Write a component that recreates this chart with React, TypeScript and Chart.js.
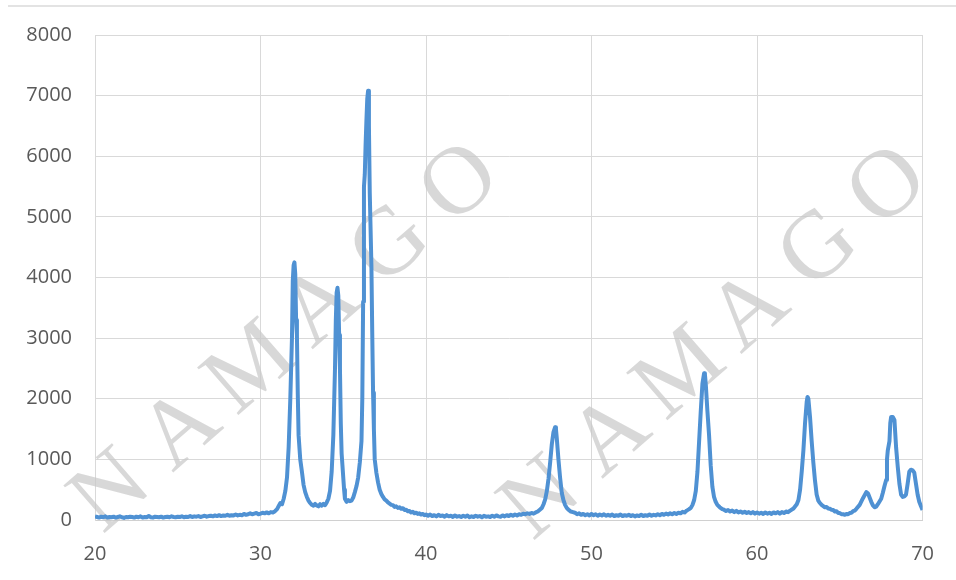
import React, { useEffect, useRef } from "react";
import { Chart, registerables } from "chart.js";

Chart.register(...registerables);

// 2θ (degrees), line by line parallel to `intensity`
const twoTheta: number[] = [
  20.0, 20.125, 20.25, 20.375, 20.5, 20.625, 20.75, 20.875,
  21.0, 21.125, 21.25, 21.375, 21.5, 21.625, 21.75, 21.875,
  22.0, 22.125, 22.25, 22.375, 22.5, 22.625, 22.75, 22.875,
  23.0, 23.125, 23.25, 23.375, 23.5, 23.625, 23.75, 23.875,
  24.0, 24.125, 24.25, 24.375, 24.5, 24.625, 24.75, 24.875,
  25.0, 25.125, 25.25, 25.375, 25.5, 25.625, 25.75, 25.875,
  26.0, 26.125, 26.25, 26.375, 26.5, 26.625, 26.75, 26.875,
  27.0, 27.125, 27.25, 27.375, 27.5, 27.625, 27.75, 27.875,
  28.0, 28.125, 28.25, 28.375, 28.5, 28.625, 28.75, 28.875,
  29.0, 29.125, 29.25, 29.375, 29.5, 29.625, 29.75, 29.875,
  30.0, 30.125, 30.25, 30.375, 30.5, 30.625, 30.75, 30.875,
  31.0,
  31.1, 31.2, 31.3, 31.4, 31.5, 31.6, 31.7, 31.8, 31.9, 31.95, 32.0, 32.05, 32.1, 32.15, 32.2, 32.25, 32.3, 32.4, 32.5, 32.6, 32.7, 32.8, 32.9, 33.0,
  33.1, 33.2, 33.3, 33.4, 33.5, 33.6, 33.7, 33.8, 33.9, 34.0, 34.1, 34.2,
  34.3, 34.4, 34.5, 34.55, 34.6, 34.65, 34.7, 34.75, 34.8, 34.85, 34.9, 34.95, 35.0, 35.05, 35.1,
  35.2, 35.3, 35.4, 35.5, 35.6, 35.7, 35.8, 35.9, 36.0, 36.1, 36.15, 36.2, 36.25,
  36.3, 36.35, 36.4, 36.45, 36.5, 36.55, 36.6, 36.65, 36.7, 36.75, 36.8, 36.85, 36.9,
  37.0, 37.1, 37.2, 37.3, 37.4, 37.5, 37.6, 37.7, 37.8, 37.9,
  38.0, 38.1, 38.2, 38.3, 38.4, 38.5, 38.6, 38.7, 38.8, 38.9, 39.0, 39.1, 39.2, 39.3, 39.4, 39.5, 39.6, 39.7, 39.8, 39.9, 40.0,
  40.125, 40.25, 40.375, 40.5, 40.625, 40.75, 40.875,
  41.0, 41.125, 41.25, 41.375, 41.5, 41.625, 41.75, 41.875,
  42.0, 42.125, 42.25, 42.375, 42.5, 42.625, 42.75, 42.875,
  43.0, 43.125, 43.25, 43.375, 43.5, 43.625, 43.75, 43.875,
  44.0, 44.125, 44.25, 44.375, 44.5, 44.625, 44.75, 44.875,
  45.0, 45.125, 45.25, 45.375, 45.5, 45.625, 45.75, 45.875,
  46.0, 46.125, 46.25, 46.375, 46.5, 46.625, 46.75, 46.875,
  47.0, 47.1, 47.2, 47.3, 47.4, 47.5, 47.6, 47.7, 47.8, 47.85, 47.9, 48.0, 48.1, 48.2, 48.3, 48.4, 48.5, 48.6, 48.75, 48.875,
  49.0, 49.125, 49.25, 49.375, 49.5, 49.625, 49.75, 49.875,
  50.0, 50.125, 50.25, 50.375, 50.5, 50.625, 50.75, 50.875,
  51.0, 51.125, 51.25, 51.375, 51.5, 51.625, 51.75, 51.875,
  52.0, 52.125, 52.25, 52.375, 52.5, 52.625, 52.75, 52.875,
  53.0, 53.125, 53.25, 53.375, 53.5, 53.625, 53.75, 53.875,
  54.0, 54.125, 54.25, 54.375, 54.5, 54.625, 54.75, 54.875,
  55.0, 55.125, 55.25, 55.375, 55.5, 55.625, 55.75, 55.875,
  56.0, 56.1, 56.2, 56.3, 56.4, 56.5, 56.6, 56.7, 56.8, 56.85, 56.9, 57.0, 57.1, 57.2, 57.3, 57.4, 57.5, 57.6, 57.75, 57.9,
  58.0, 58.125, 58.25, 58.375, 58.5, 58.625, 58.75, 58.875,
  59.0, 59.125, 59.25, 59.375, 59.5, 59.625, 59.75, 59.875,
  60.0, 60.125, 60.25, 60.375, 60.5, 60.625, 60.75, 60.875,
  61.0, 61.125, 61.25, 61.375, 61.5, 61.625, 61.75, 61.875,
  62.0, 62.2, 62.4, 62.5, 62.6, 62.7, 62.8, 62.9, 63.0, 63.05, 63.1, 63.2, 63.3, 63.4, 63.5, 63.6, 63.7, 63.8, 63.9,
  64.0, 64.1, 64.2, 64.3, 64.4, 64.5, 64.6, 64.7, 64.8, 64.9, 65.0, 65.1, 65.2, 65.3, 65.4, 65.5, 65.6, 65.7, 65.8, 65.9,
  66.0, 66.2, 66.4, 66.6, 66.7, 66.8, 66.9, 67.0, 67.1, 67.2, 67.3, 67.5, 67.6, 67.7, 67.8,
  67.85, 67.9, 68.0, 68.05, 68.1, 68.2, 68.3, 68.4, 68.5, 68.6, 68.7, 68.8, 68.9, 69.0,
  69.1, 69.2, 69.3, 69.4, 69.5, 69.6, 69.7, 69.8, 69.9, 70.0,
];

// intensity (counts)
const intensity: number[] = [
  60, 50, 40, 55, 45, 60, 40, 50,
  45, 55, 40, 50, 60, 45, 35, 50,
  45, 55, 50, 40, 55, 45, 60, 40,
  50, 45, 65, 45, 40, 55, 50, 45,
  55, 40, 50, 55, 45, 60, 50, 45,
  55, 50, 60, 45, 55, 50, 65, 50,
  60, 55, 65, 50, 60, 70, 55, 65,
  70, 60, 75, 65, 80, 65, 75, 70,
  85, 70, 80, 75, 90, 75, 85, 80,
  100, 85, 95, 110, 95, 105, 115, 95,
  105, 120, 110, 125, 110, 130, 125, 145,
  180,
  230, 280, 260, 350, 480, 700, 1200, 2000, 3000, 3950, 4200, 4250, 4050, 3300, 3050, 2100, 1400, 1000, 800, 580, 460, 380, 320, 280,
  250, 235, 265, 240, 225, 260, 235, 265, 245, 290, 350, 480,
  800, 1400, 2500, 3300, 3750, 3830, 3700, 3050, 2500, 1600, 1100, 900, 700, 500, 350,
  300, 330, 310, 320, 370, 460, 560, 700, 950, 1300, 2000, 3600, 5500,
  5700, 6200, 6600, 6950, 7080, 6500, 5400, 4800, 4200, 3100, 2100, 1500, 1000,
  780, 620, 500, 430, 380, 340, 320, 290, 270, 250,
  245, 215, 225, 200, 210, 185, 195, 165, 170, 145, 150, 125, 135, 110, 120, 100, 110, 90, 100, 80, 90,
  70, 90, 65, 80, 60, 85, 65,
  75, 55, 80, 60, 70, 50, 75, 55,
  65, 50, 70, 55, 75, 45, 60, 50,
  70, 55, 65, 45, 70, 55, 60, 50,
  70, 55, 75, 60, 55, 75, 60, 80,
  65, 85, 70, 90, 75, 95, 85, 105,
  95, 110, 100, 115, 105, 125, 140, 170,
  200, 260, 340, 480, 680, 950, 1250, 1450, 1530, 1500, 1350, 1000, 700, 450, 330, 250, 200, 170, 140, 130,
  120, 95, 110, 85, 100, 80, 95, 75,
  100, 80, 95, 70, 90, 75, 95, 70,
  85, 70, 90, 65, 80, 70, 90, 65,
  80, 70, 85, 65, 80, 60, 75, 65,
  85, 65, 80, 70, 90, 70, 85, 75,
  95, 80, 100, 85, 105, 90, 110, 95,
  115, 100, 120, 110, 135, 125, 155, 175,
  200, 250, 330, 480, 800, 1300, 1800, 2250, 2420, 2400, 2250, 1800, 1400, 900, 550, 380, 300, 250, 210, 180,
  170, 150, 165, 140, 155, 130, 150, 125,
  140, 120, 135, 115, 130, 110, 130, 105,
  125, 105, 120, 100, 125, 105, 120, 100,
  125, 110, 130, 105, 130, 115, 140, 130,
  155, 190, 260, 330, 500, 800, 1150, 1600, 1950, 2030, 2000, 1700, 1300, 950, 650, 420, 320, 280, 250,
  230, 210, 215, 190, 185, 170, 165, 140, 145, 115, 115, 95, 95, 85, 100, 95, 115, 120, 145, 155,
  185, 250, 360, 460, 440, 370, 300, 240, 210, 220, 260, 350, 450, 560, 660,
  1000, 1150, 1300, 1600, 1700, 1700, 1650, 1200, 880, 600, 420, 380, 390, 420,
  600, 800, 830, 820, 780, 600, 420, 300, 230, 165,
];

const xTicks: number[] = [20, 30, 40, 50, 60, 70];
const yTicks: number[] = [0, 1000, 2000, 3000, 4000, 5000, 6000, 7000, 8000];
const watermarkText = "NAMAGO";

const watermarkPlugin = {
  id: "watermark",
  beforeDatasetsDraw(chart: any) {
    const ctx = chart.ctx as CanvasRenderingContext2D;
    const sets = [
      { x0: 108, y0: 488, x1: 457, y1: 180 },
      { x0: 538, y0: 495, x1: 885, y1: 183 },
    ];
    const ang = (-41 * Math.PI) / 180;
    const size = 96;
    ctx.save();
    ctx.font = `${size}px "Liberation Serif", "DejaVu Serif", serif`;
    ctx.fillStyle = "rgba(200,200,200,0.7)";
    ctx.textAlign = "center";
    ctx.textBaseline = "alphabetic";
    for (const s of sets) {
      const n = watermarkText.length;
      for (let i = 0; i < n; i++) {
        const cx = s.x0 + ((s.x1 - s.x0) * i) / (n - 1);
        const cy = s.y0 + ((s.y1 - s.y0) * i) / (n - 1);
        ctx.save();
        ctx.translate(cx, cy);
        ctx.rotate(ang);
        ctx.fillText(watermarkText[i], 0, size * 0.33);
        ctx.restore();
      }
    }
    ctx.restore();
  },
  afterDraw(chart: any) {
    const ctx = chart.ctx as CanvasRenderingContext2D;
    ctx.save();
    ctx.strokeStyle = "#dadada";
    ctx.lineWidth = 1.5;
    ctx.beginPath();
    ctx.moveTo(8, 6);
    ctx.lineTo(956, 6);
    ctx.stroke();
    ctx.restore();
  },
};

export default function App() {
  const ref = useRef<HTMLCanvasElement | null>(null);
  useEffect(() => {
    document.body.style.margin = "0";
    document.body.style.background = "#ffffff";
    const canvas = ref.current;
    if (!canvas) return;
    const n = Math.min(twoTheta.length, intensity.length);
    const points = twoTheta.slice(0, n).map((x, i) => ({ x, y: intensity[i] }));
    const font = { family: '"Open Sans", "Noto Sans", sans-serif', size: 20 };
    const chart = new Chart(canvas, {
      type: "line",
      data: {
        datasets: [
          {
            data: points,
            borderColor: "#4f91d3",
            borderWidth: 4,
            pointRadius: 0,
            tension: 0,
            fill: false,
            borderJoinStyle: "round",
          },
        ],
      },
      options: {
        animation: false,
        responsive: false,
        devicePixelRatio: 1,
        layout: { padding: { top: 35, right: 33, left: 0, bottom: 0 } },
        plugins: { legend: { display: false }, tooltip: { enabled: false } },
        scales: {
          x: {
            type: "linear",
            min: 20,
            max: 70,
            afterBuildTicks: (scale: any) => {
              scale.ticks = xTicks.map((v) => ({ value: v }));
            },
            afterFit: (scale: any) => {
              scale.height = 60;
            },
            grid: { color: "#d9d9d9", lineWidth: 1, drawTicks: false },
            border: { color: "#d0d0d0", width: 1 },
            ticks: {
              color: "#595959",
              font,
              padding: 22,
              maxRotation: 0,
              callback: (v: any) => String(v),
            },
          },
          y: {
            type: "linear",
            min: 0,
            max: 8000,
            afterBuildTicks: (scale: any) => {
              scale.ticks = yTicks.map((v) => ({ value: v }));
            },
            afterFit: (scale: any) => {
              scale.width = 95;
            },
            grid: { color: "#d9d9d9", lineWidth: 1, drawTicks: false },
            border: { color: "#d9d9d9", width: 1 },
            ticks: {
              color: "#595959",
              font,
              padding: 23,
              callback: (v: any) => String(v),
            },
          },
        },
      },
      plugins: [watermarkPlugin],
    });
    return () => chart.destroy();
  }, []);
  return (
    <div style={{ width: 956, height: 580, background: "#fff" }}>
      <canvas ref={ref} width={956} height={580} style={{ display: "block" }} />
    </div>
  );
}
